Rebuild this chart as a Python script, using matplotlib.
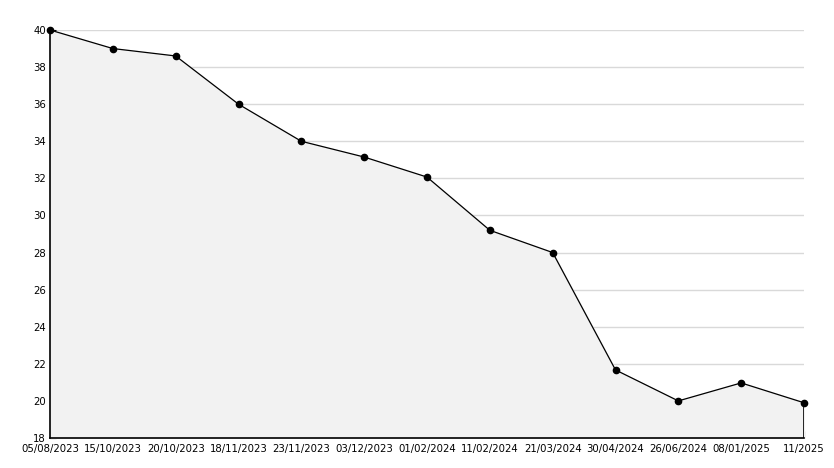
import matplotlib
matplotlib.use("Agg")
import matplotlib.pyplot as plt
from matplotlib.ticker import MultipleLocator

# data
dates = ["05/08/2023", "15/10/2023", "20/10/2023", "18/11/2023", "23/11/2023",
         "03/12/2023", "01/02/2024", "11/02/2024", "21/03/2024", "30/04/2024",
         "26/06/2024", "08/01/2025", "11/2025"]
values = [40.0, 39.0, 38.6, 36.0, 34.0, 33.15, 32.07, 29.2, 28.0, 21.67, 20.0, 20.97, 19.9]
y_min, y_max = 18, 40

fig = plt.figure(figsize=(8.34, 4.68), dpi=100)
ax = fig.add_axes([50 / 834, 30 / 468, 754 / 834, 408 / 468])

x = list(range(len(values)))
ax.fill_between(x, values, y_min, color="#f2f2f2", zorder=1)
ax.plot(x, values, color="black", lw=0.9, marker="o", ms=4.5, zorder=3, clip_on=False)
ax.vlines(x[-1], y_min, values[-1], color="black", lw=1.2, zorder=3)

ax.set_xlim(0, len(values) - 1)
ax.set_ylim(y_min, y_max)
ax.yaxis.set_major_locator(MultipleLocator(2))
ax.yaxis.set_minor_locator(MultipleLocator(1))
ax.grid(axis="y", which="major", color="#d9d9d9", lw=1, zorder=0)
ax.set_axisbelow(True)

ax.set_xticks(x)
ax.set_xticklabels(dates)
for s in ["top", "right"]:
    ax.spines[s].set_visible(False)
for s in ["left", "bottom"]:
    ax.spines[s].set_linewidth(1.2)

ax.tick_params(axis="y", which="major", direction="in", length=4, labelsize=7.3, pad=3)
ax.tick_params(axis="y", which="minor", direction="in", length=3)
ax.tick_params(axis="x", direction="in", length=5, labelsize=7.3, pad=4)

fig.savefig("out.png", dpi=100)
